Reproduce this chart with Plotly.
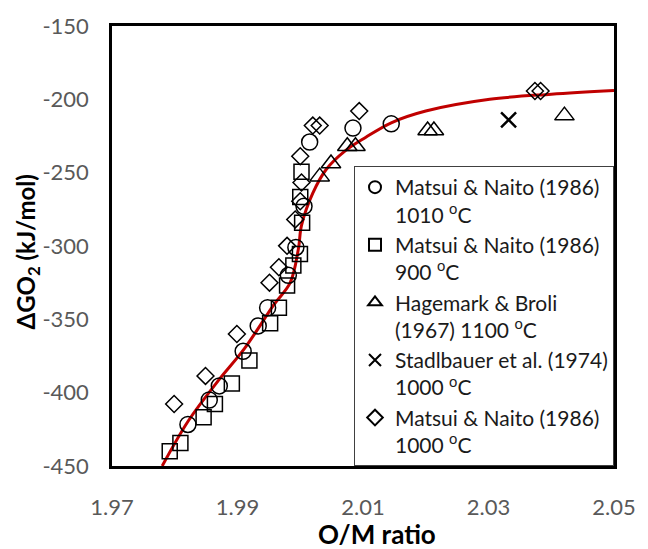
import plotly.graph_objects as go

# Matsui & Naito (1986), 1010 °C
om_1010 = [2.0145, 2.0084, 2.0015, 2.0006, 1.9993, 1.9981, 1.9948, 1.9933, 1.9909, 1.9871, 1.9855, 1.9821]
dg_1010 = [-216.7, -219.6, -229.1, -272.9, -301.0, -320.0, -342.1, -354.5, -371.8, -395.4, -405.0, -421.7]

# Matsui & Naito (1986), 900 °C
om_900 = [2.0002, 2.0000, 2.0003, 1.99995, 1.9989, 1.9979, 1.9966, 1.9952, 1.9919, 1.9891, 1.9864, 1.9846, 1.9809, 1.9792]
dg_900 = [-249.3, -266.6, -284.2, -305.5, -313.3, -327.0, -342.1, -352.7, -378.1, -393.8, -407.7, -416.8, -434.3, -439.9]

# Hagemark & Broli (1967), 1100 °C
om_1100 = [2.0031, 2.0049, 2.0075, 2.0088, 2.0203, 2.0213, 2.0421]
dg_1100 = [-252.7, -243.7, -232.0, -232.0, -221.2, -221.2, -211.1]

# Stadlbauer et al. (1974), 1000 °C
om_stad = [2.0332]
dg_stad = [-214.0]

# Matsui & Naito (1986), 1000 °C
om_1000 = [2.0094, 2.0020, 2.0031, 2.0000, 2.0002, 2.0000, 1.9992, 1.9979, 1.9966, 1.9951, 1.9899, 1.9849, 1.9799, 2.0374, 2.0383]
dg_1000 = [-208.0, -217.9, -217.9, -238.8, -256.7, -269.5, -281.9, -299.9, -314.5, -325.0, -360.0, -388.6, -407.7, -194.3, -194.3]

# Model curve
om_model = [1.9780, 1.9822, 1.9869, 1.9911, 1.9958, 1.9984, 1.9997, 2.0002, 2.0020, 2.0041, 2.0072, 2.0104, 2.0145, 2.0200, 2.0302, 2.0400, 2.0500]
dg_model = [-450.0, -419.0, -392.0, -370.0, -340.0, -325.0, -302.0, -286.0, -264.0, -248.0, -235.0, -226.0, -216.0, -208.0, -200.0, -196.5, -194.0]

x_ticks = [1.97, 1.99, 2.01, 2.03, 2.05]
y_ticks = [-450, -400, -350, -300, -250, -200, -150]

FONT = "Lato"
LABEL_GRAY = "#595959"

fig = go.Figure()

fig.add_trace(go.Scatter(
    x=om_model, y=dg_model, mode="lines", line=dict(color="#C00000", width=3, shape="spline"),
    showlegend=False, hoverinfo="skip"))

series = [
    (om_1010, dg_1010, "circle-open", 16, "Matsui & Naito (1986)<br>1010 <sup>o</sup>C"),
    (om_900, dg_900, "square-open", 15, "Matsui & Naito (1986)<br>900 <sup>o</sup>C"),
    (om_1100, dg_1100, "triangle-up-open", 17, "Hagemark & Broli<br>(1967) 1100 <sup>o</sup>C"),
    (om_stad, dg_stad, "x-thin-open", 15, "Stadlbauer et al. (1974)<br>1000 <sup>o</sup>C"),
    (om_1000, dg_1000, "diamond-open", 13, "Matsui & Naito (1986)<br>1000 <sup>o</sup>C"),
]
for xs, ys, sym, size, name in series:
    lw = 2.5 if sym.startswith("x") else 1.5
    fig.add_trace(go.Scatter(
        x=xs, y=ys, mode="markers", name=name,
        marker=dict(symbol=sym, size=size, color="black", line=dict(color="black", width=lw))))

fig.update_layout(
    width=648, height=549,
    margin=dict(l=112, r=25, t=21, b=83),
    paper_bgcolor="white", plot_bgcolor="white",
    font=dict(family=FONT, color=LABEL_GRAY),
    xaxis=dict(range=[1.97, 2.05], tickvals=x_ticks, ticktext=[f"{v:.2f}" for v in x_ticks],
               showgrid=False, zeroline=False, showline=True, mirror=True,
               linecolor="black", linewidth=2.5, ticks="", ticklabelstandoff=20,
               tickfont=dict(size=22, family=FONT, color=LABEL_GRAY)),
    yaxis=dict(range=[-450, -150], tickvals=y_ticks, ticktext=[f"-{abs(v)}" for v in y_ticks],
               showgrid=False, zeroline=False,
               showline=True, mirror=True, linecolor="black", linewidth=2.5, ticks="",
               ticklabelstandoff=16, tickfont=dict(size=22, family=FONT, color=LABEL_GRAY)),
    legend=dict(x=1, y=0, xanchor="right", yanchor="bottom", bgcolor="white",
                bordercolor="#404040", borderwidth=1, valign="top", itemsizing="constant",
                tracegroupgap=0, font=dict(size=21, family=FONT, color="#1a1a1a")),
    showlegend=True,
    annotations=[
        dict(text="<b>O/M ratio</b>", xref="paper", yref="paper", x=0.528, y=0,
             yshift=-68, xanchor="center", yanchor="middle", showarrow=False,
             font=dict(size=26, family=FONT, color="black")),
        dict(text="<b>ΔGO<sub>2</sub> (kJ/mol)</b>", xref="paper", yref="paper", x=0, xshift=-84,
             y=0.485, xanchor="center", yanchor="middle", textangle=-90, showarrow=False,
             font=dict(size=24, family=FONT, color="black")),
    ],
)

fig.write_html("out.html")
